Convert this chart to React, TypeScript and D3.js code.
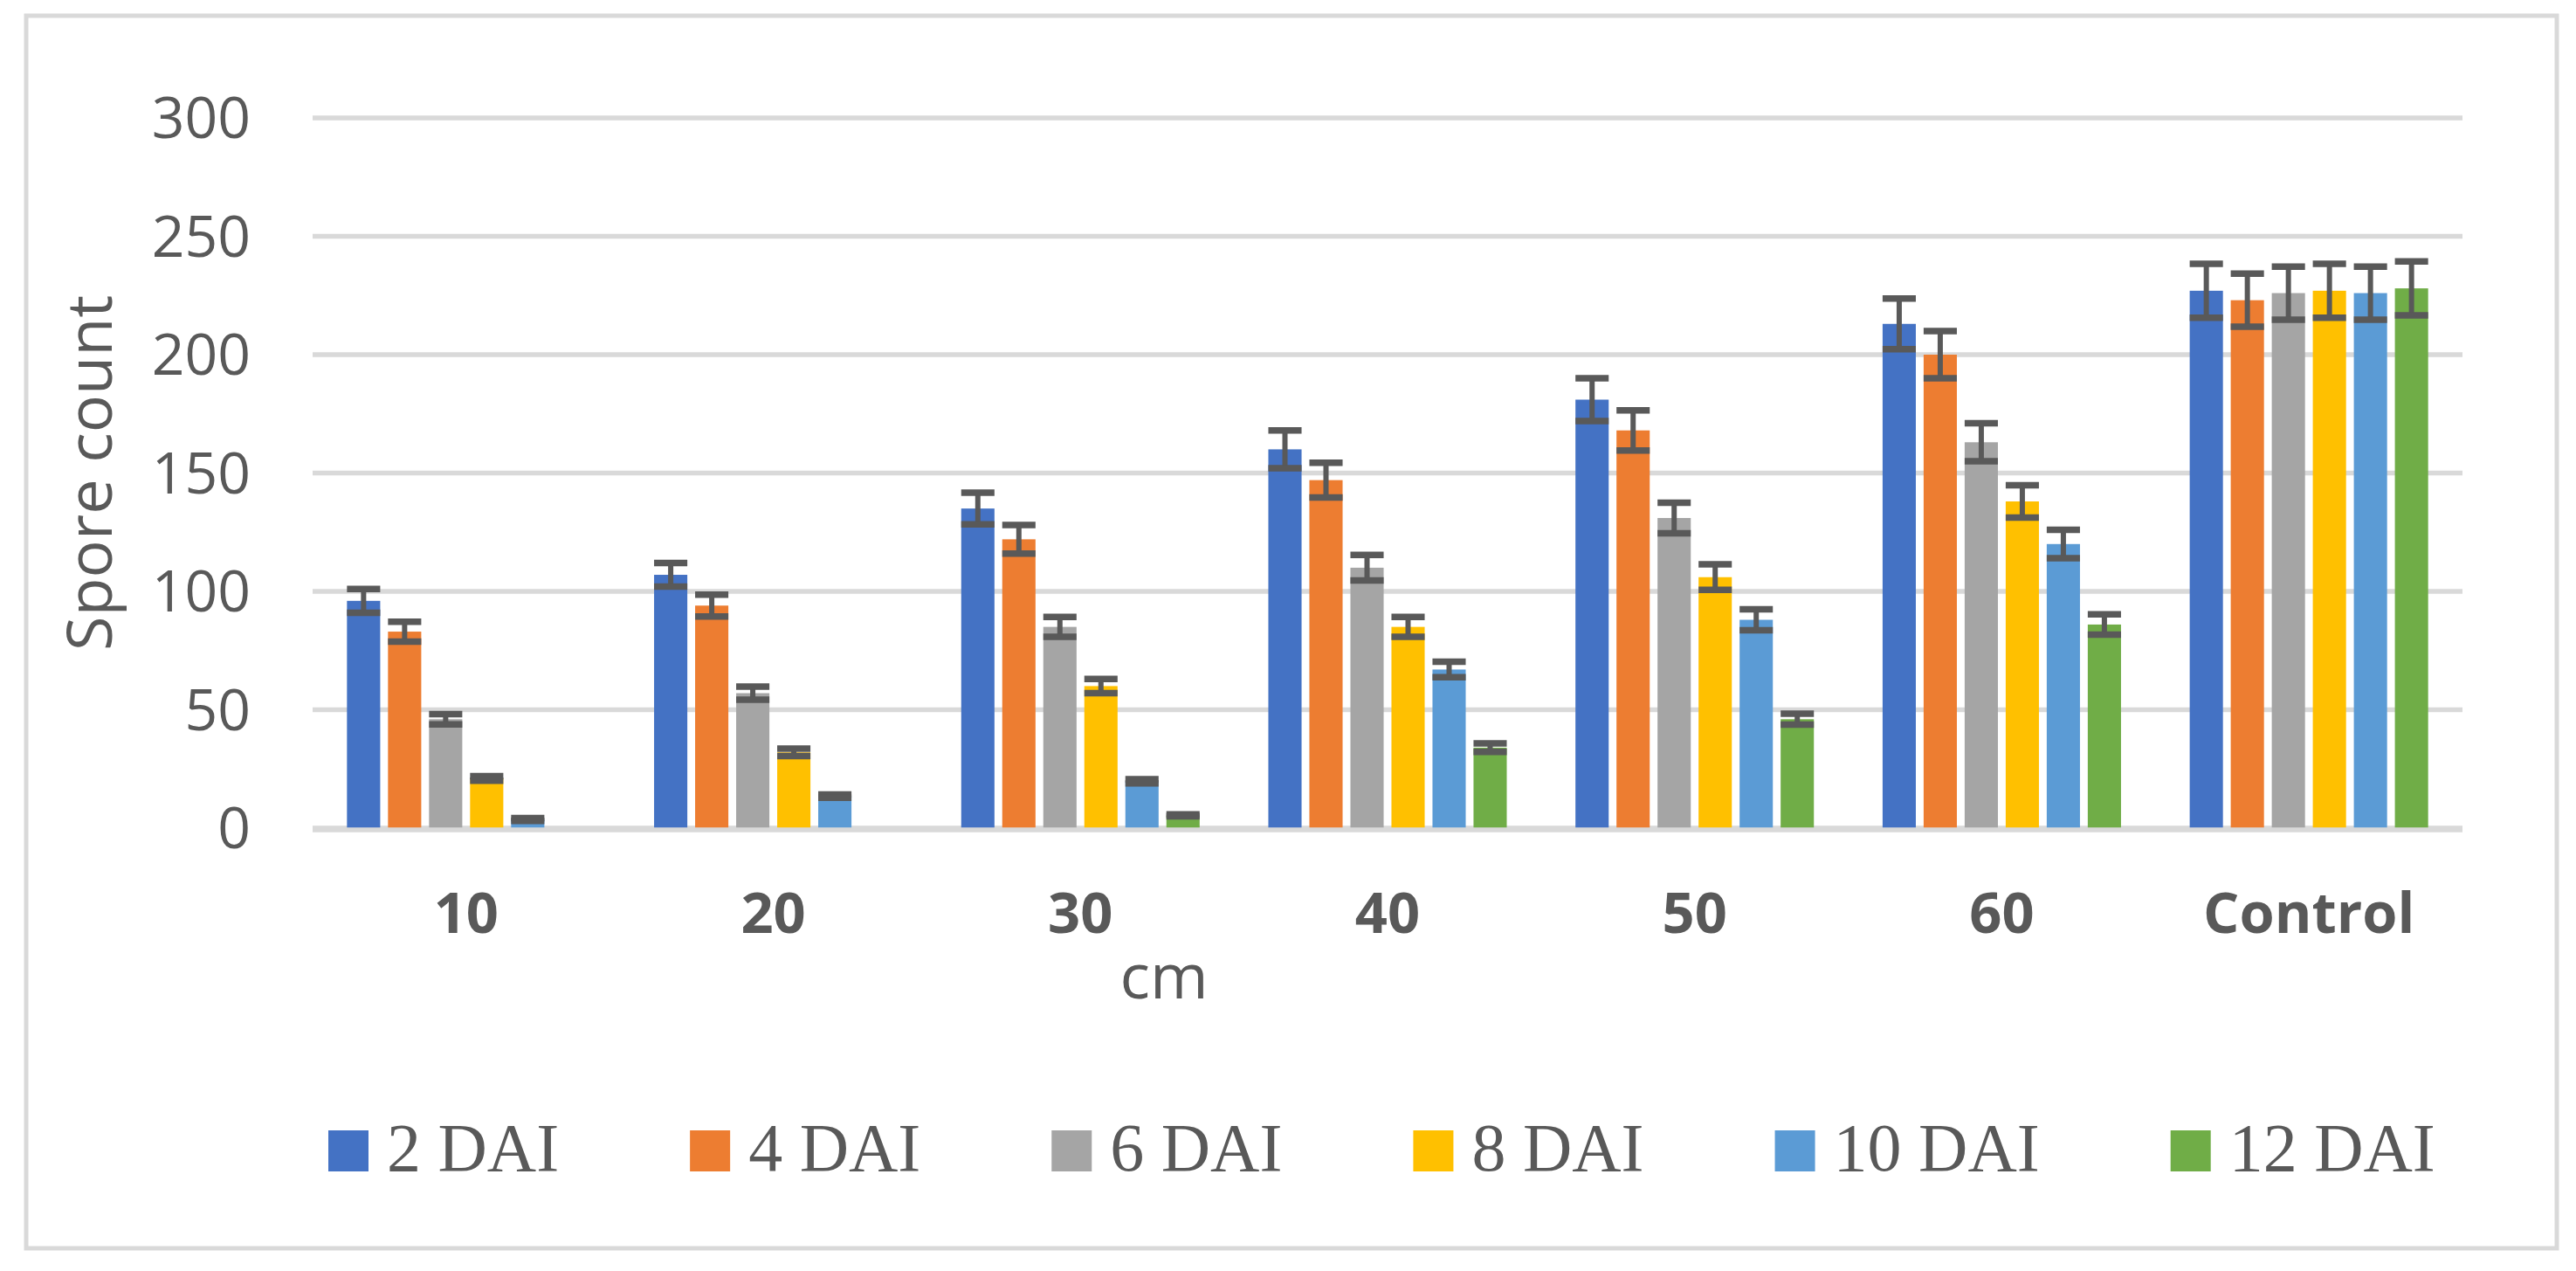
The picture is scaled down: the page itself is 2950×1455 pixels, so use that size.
import { useEffect, useRef } from "react";
import * as d3 from "d3";

const W = 2950,
  H = 1455;

const categories = ["10", "20", "30", "40", "50", "60", "Control"];
const seriesNames = ["2 DAI", "4 DAI", "6 DAI", "8 DAI", "10 DAI", "12 DAI"];
const colors = ["#4472C4", "#ED7D31", "#A5A5A5", "#FFC000", "#5B9BD5", "#70AD47"];

// mean spore counts per series, one value per category
const dai2 = [96, 107, 135, 160, 181, 213, 227];
const dai4 = [83, 94, 122, 147, 168, 200, 223];
const dai6 = [46, 57, 85, 110, 131, 163, 226];
const dai8 = [21, 32, 60, 85, 106, 138, 227];
const dai10 = [3.6, 13.5, 19.8, 67, 88, 120, 226];
const dai12 = [0, 0, 5.4, 34, 46, 86, 228];

// error bar half widths
const err2 = [5, 5, 6.7, 8, 9, 10.7, 11.4];
const err4 = [4.2, 4.6, 6, 7.3, 8.5, 10, 11.2];
const err6 = [2.2, 2.8, 4.2, 5.4, 6.5, 8, 11.2];
const err8 = [1, 1.6, 3, 4.2, 5.4, 6.8, 11.4];
const err10 = [0.6, 0.7, 0.9, 3.3, 4.4, 6, 11.2];
const err12 = [0, 0, 0.4, 1.8, 2.3, 4.3, 11.4];

const yTicks = [0, 50, 100, 150, 200, 250, 300];

const values = [dai2, dai4, dai6, dai8, dai10, dai12];
const errors = [err2, err4, err6, err8, err10, err12];

function App() {
  const svgRef = useRef(null);

  const buildSVG = () => {
    document.body.style.margin = "0";
    const svg = d3.select(svgRef.current);
    svg.selectAll("*").remove();
    svg.attr("width", W).attr("height", H);

    const textColor = "#595959";
    const sans = "'Open Sans', 'Noto Sans', sans-serif";

    // outer border
    svg
      .append("rect")
      .attr("x", 30)
      .attr("y", 18)
      .attr("width", 2898)
      .attr("height", 1411)
      .attr("fill", "white")
      .attr("stroke", "#d9d9d9")
      .attr("stroke-width", 5);

    const x0 = d3.scaleBand().domain(categories).range([358, 2820]).padding(0);
    const x1 = d3
      .scaleBand()
      .domain(seriesNames)
      .range([0, x0.bandwidth()])
      .paddingInner(0.19)
      .paddingOuter(0.837);
    const y = d3.scaleLinear().domain([0, 300]).range([948, 135]);

    // gridlines
    svg
      .append("g")
      .selectAll("line")
      .data(yTicks)
      .enter()
      .append("line")
      .attr("x1", 358)
      .attr("x2", 2820)
      .attr("y1", (d) => y(d))
      .attr("y2", (d) => y(d))
      .attr("stroke", "#d9d9d9")
      .attr("stroke-width", 5.5);

    // y tick labels
    svg
      .append("g")
      .selectAll("text")
      .data(yTicks)
      .enter()
      .append("text")
      .attr("x", 287)
      .attr("y", (d) => y(d) + 23)
      .attr("text-anchor", "end")
      .attr("font-family", sans)
      .attr("font-size", 66)
      .attr("fill", textColor)
      .text((d) => d);

    // bars
    const groups = svg
      .append("g")
      .selectAll("g")
      .data(seriesNames)
      .enter()
      .append("g")
      .attr("fill", (d, i) => colors[i]);

    groups
      .selectAll("rect")
      .data((s, i) =>
        categories.map((c, j) => ({ s, c, v: values[i][j], e: errors[i][j] }))
      )
      .enter()
      .append("rect")
      .attr("x", (d) => (x0(d.c) as number) + (x1(d.s) as number))
      .attr("y", (d) => y(d.v))
      .attr("width", x1.bandwidth())
      .attr("height", (d) => y(0) - y(d.v));

    // axis line over bar bottoms
    svg
      .append("line")
      .attr("x1", 358)
      .attr("x2", 2820)
      .attr("y1", y(0) + 2)
      .attr("y2", y(0) + 2)
      .attr("stroke", "#d9d9d9")
      .attr("stroke-width", 5.5);

    // error bars
    const errData = seriesNames.flatMap((s, i) =>
      categories
        .map((c, j) => ({ s, c, v: values[i][j], e: errors[i][j] }))
        .filter((d) => d.v > 0)
    );
    const eb = svg
      .append("g")
      .attr("stroke", "#595959")
      .selectAll("g")
      .data(errData)
      .enter()
      .append("g");
    const cx = (d: any) => (x0(d.c) as number) + (x1(d.s) as number);
    eb.append("line")
      .attr("x1", (d) => cx(d) + x1.bandwidth() / 2)
      .attr("x2", (d) => cx(d) + x1.bandwidth() / 2)
      .attr("y1", (d) => y(d.v + d.e))
      .attr("y2", (d) => y(d.v - d.e))
      .attr("stroke-width", 6);
    [1, -1].forEach((sign) => {
      eb.append("line")
        .attr("x1", (d) => cx(d))
        .attr("x2", (d) => cx(d) + x1.bandwidth())
        .attr("y1", (d) => y(d.v + sign * d.e))
        .attr("y2", (d) => y(d.v + sign * d.e))
        .attr("stroke-width", 7.5);
    });

    // x labels
    svg
      .append("g")
      .selectAll("text")
      .data(categories)
      .enter()
      .append("text")
      .attr("x", (d) => (x0(d) as number) + x0.bandwidth() / 2)
      .attr("y", 1068)
      .attr("text-anchor", "middle")
      .attr("font-family", sans)
      .attr("font-weight", "bold")
      .attr("font-size", 65)
      .attr("fill", textColor)
      .text((d) => d);

    // axis titles
    svg
      .append("text")
      .attr("x", 1333)
      .attr("y", 1143)
      .attr("text-anchor", "middle")
      .attr("font-family", sans)
      .attr("font-size", 72)
      .attr("fill", textColor)
      .text("cm");

    svg
      .append("text")
      .attr("transform", `translate(128, ${(y(0) + y(300)) / 2}) rotate(-90)`)
      .attr("text-anchor", "middle")
      .attr("font-family", sans)
      .attr("font-size", 72)
      .attr("fill", textColor)
      .text("Spore count");

    // legend
    const legend = svg.append("g");
    let lx = 376;
    seriesNames.forEach((name, i) => {
      legend
        .append("rect")
        .attr("x", lx)
        .attr("y", 1294)
        .attr("width", 46)
        .attr("height", 47)
        .attr("fill", colors[i]);
      const t = legend
        .append("text")
        .attr("x", lx + 67)
        .attr("y", 1340)
        .attr("font-family", "'Liberation Serif', 'Times New Roman', serif")
        .attr("font-size", 78)
        .attr("fill", textColor)
        .text(name);
      const tw = (t.node() as SVGTextElement).getComputedTextLength();
      lx = lx + 67 + tw + 150;
    });
  };

  useEffect(buildSVG, []);

  return (
    <div>
      <svg ref={svgRef}></svg>
    </div>
  );
}

export default App;
